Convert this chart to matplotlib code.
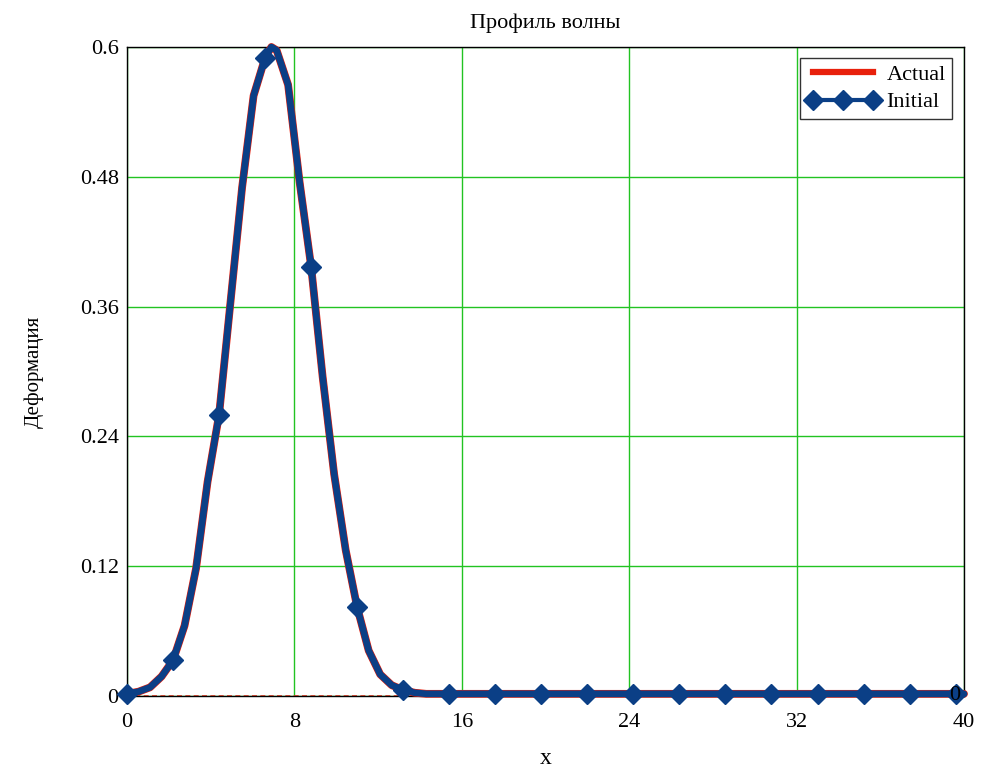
import matplotlib
matplotlib.use("Agg")
import matplotlib.pyplot as plt
from matplotlib.lines import Line2D

plt.rcParams['font.family'] = ['Liberation Serif', 'DejaVu Serif']

# Curve
x_curve = [0, 0.55, 1.1, 1.65, 2.2, 2.75, 3.3, 3.85, 4.4, 4.95, 5.5, 6.05, 6.6, 6.9,
           7.15, 7.7, 8.25, 8.8, 9.35, 9.9, 10.45, 11.0, 11.55, 12.1, 12.65, 13.2,
           13.75, 14.3, 20.0, 30.0, 40.0]
y_actual = [0.002, 0.004, 0.008, 0.018, 0.033, 0.065, 0.118, 0.198, 0.26, 0.365,
            0.47, 0.555, 0.59, 0.6, 0.597, 0.565, 0.475, 0.397, 0.295, 0.205, 0.135,
            0.082, 0.042, 0.02, 0.01, 0.0055, 0.003, 0.002, 0.002, 0.002, 0.002]
y_initial = list(y_actual)

# Marker points of the "Initial" series
x_markers = [0, 2.2, 4.4, 6.6, 8.8, 11.0, 13.2, 15.4, 17.6, 19.8, 22.0, 24.2, 26.4,
             28.6, 30.8, 33.0, 35.2, 37.4, 39.6]
y_markers = [0.002, 0.033, 0.26, 0.59, 0.397, 0.082, 0.0055, 0.002, 0.002, 0.002,
             0.002, 0.002, 0.002, 0.002, 0.002, 0.002, 0.002, 0.002, 0.002]

x_ticks = [0, 8, 16, 24, 32, 40]
x_ticklabels = ["0", "8", "16", "24", "32", "40"]
y_ticks = [0, 0.12, 0.24, 0.36, 0.48, 0.6]
y_ticklabels = ["0", "0.12", "0.24", "0.36", "0.48", "0.6"]

title = "Профиль волны"
xlabel = "x"
ylabel = "Деформация"
series_names = ["Actual", "Initial"]

RED = "#e8200c"
BLUE = "#0b3f86"
GREEN = "#22c322"

fig = plt.figure(figsize=(10.07, 7.76), dpi=100)
ax = fig.add_axes([127/1007, 1-696/776, (964-127)/1007, (696-47)/776])

ax.set_xlim(0, 40)
ax.set_ylim(0, 0.6)
ax.set_xticks(x_ticks)
ax.set_xticklabels(x_ticklabels)
ax.set_yticks(y_ticks)
ax.set_yticklabels(y_ticklabels)
ax.tick_params(axis='y', length=0, labelsize=16, pad=6)
ax.tick_params(axis='x', length=0, labelsize=16, pad=12)
ax.grid(True, color=GREEN, lw=1.0)
ax.set_axisbelow(True)
for s in ax.spines.values():
    s.set_color("black")
    s.set_linewidth(1.0)

ax.axhline(0, color="#c03020", lw=1.2, ls=(0, (3, 2)), zorder=3)

ax.plot(x_curve, y_actual, color=RED, lw=5.6, solid_joinstyle='round',
        solid_capstyle='round', zorder=4, clip_on=False)
ax.plot(x_curve, y_initial, color=BLUE, lw=4.8, solid_joinstyle='round',
        solid_capstyle='round', zorder=5, clip_on=False)
ax.plot(x_markers, y_markers, ls='none', marker='D', ms=10, color=BLUE, zorder=6,
        clip_on=False)

ax.text(39.55, 0.0005, "0", fontsize=16, ha='center', va='center', zorder=7)

ax.set_title(title, fontsize=16, pad=14)
ax.set_xlabel(xlabel, fontsize=17, labelpad=12)
ax.set_ylabel(ylabel, fontsize=15, labelpad=26)

handles = [Line2D([], [], color=RED, lw=4.5),
           Line2D([], [], color=BLUE, lw=3, marker='D', ms=10)]
leg = ax.legend(handles, series_names, loc='upper right', numpoints=3,
                fontsize=16, handlelength=3.3, fancybox=False, framealpha=1,
                edgecolor='#333333', borderpad=0.3, labelspacing=0.3,
                handletextpad=0.3, borderaxespad=0, bbox_to_anchor=(0.986, 0.983))
leg.get_frame().set_linewidth(1.0)

fig.savefig("out.png", dpi=100)
